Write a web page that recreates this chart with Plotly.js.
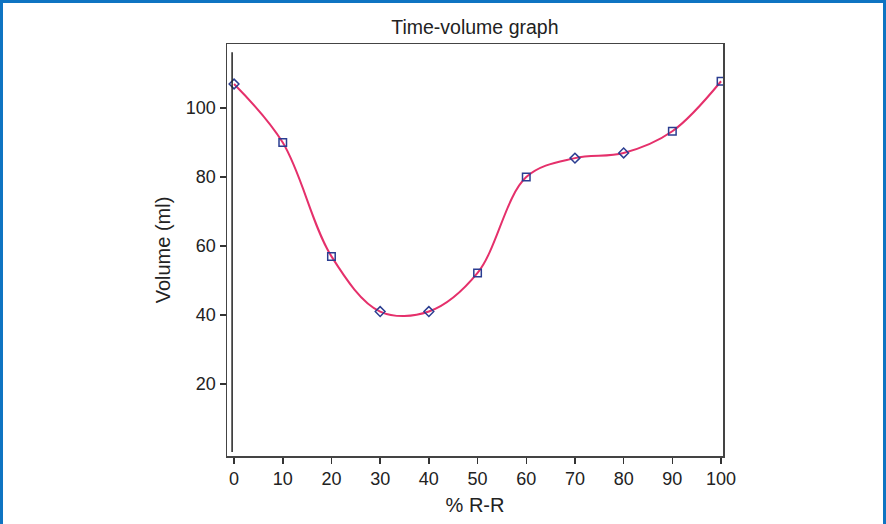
<!DOCTYPE html>
<html>
<head>
<meta charset="utf-8">
<script src="https://cdn.plot.ly/plotly-3.0.1.min.js"></script>
<style>
html,body{margin:0;padding:0;background:#fff;}
#frame{position:absolute;left:0;top:0;width:880px;height:524px;border-left:3px solid #0f74c2;border-right:3px solid #0f74c2;border-top:3px solid #0f74c2;}
#chart{position:absolute;left:0;top:0;width:886px;height:524px;}
</style>
</head>
<body>
<div id="chart"></div>
<div id="frame"></div>
<script>
const rrPercent = [0, 10, 20, 30, 40, 50, 60, 70, 80, 90, 100];
const volumeMl = [107, 90, 57, 41, 41, 52.2, 80, 85.5, 87, 93.3, 107.8];
const markerSymbols = ['diamond-open','square-open','square-open','diamond-open','diamond-open','square-open','square-open','diamond-open','diamond-open','square-open','square-open'];
const xTicks = [0,10,20,30,40,50,60,70,80,90,100];
const yTicks = [20,40,60,80,100];

const trace = {
  x: rrPercent, y: volumeMl, type: 'scatter', mode: 'lines+markers',
  line: {shape: 'spline', smoothing: 1.0, color: '#e5306b', width: 2},
  marker: {symbol: markerSymbols, size: 7.5, color: '#2b3d91', line: {color: '#2b3d91', width: 1.5}},
  hoverinfo: 'none'
};
const fontFam = '"Liberation Sans", Arial, sans-serif';
const layout = {
  width: 886, height: 524,
  margin: {l: 227, r: 163, t: 44, b: 68},
  paper_bgcolor: '#fff', plot_bgcolor: '#fff',
  showlegend: false,
  font: {family: fontFam, size: 18, color: '#222'},
  title: {text: 'Time-volume graph', x: 0.536, xanchor: 'center', y: 0.948, yanchor: 'middle', font: {family: fontFam, size: 19.5, color: '#222'}},
  xaxis: {
    range: [-1.45, 100.4], tickvals: xTicks, ticktext: xTicks.map(String),
    ticks: 'outside', ticklen: 6, tickwidth: 1.5, tickcolor: '#333',
    showline: true, linecolor: '#444', linewidth: 1.5, mirror: true,
    showgrid: false, zeroline: false,
    tickfont: {family: fontFam, size: 18, color: '#222'},
    title: {text: '% R-R', font: {family: fontFam, size: 20, color: '#222'}, standoff: 10}
  },
  yaxis: {
    range: [-0.9, 118.6], tickvals: yTicks, ticktext: yTicks.map(String),
    ticks: 'outside', ticklen: 6, tickwidth: 1.5, tickcolor: '#333',
    showline: true, linecolor: '#444', linewidth: 1.5, mirror: true,
    showgrid: false, zeroline: false,
    tickfont: {family: fontFam, size: 18, color: '#222'},
    title: {text: 'Volume (ml)', font: {family: fontFam, size: 20, color: '#222'}, standoff: 10}
  },
  shapes: [{type: 'line', xref: 'x', yref: 'paper', x0: -0.4, x1: -0.4, y0: 0.01, y1: 0.98, line: {color: '#222', width: 1.5}}]
};
Plotly.newPlot('chart', [trace], layout, {displayModeBar: false, staticPlot: true});
</script>
</body>
</html>
